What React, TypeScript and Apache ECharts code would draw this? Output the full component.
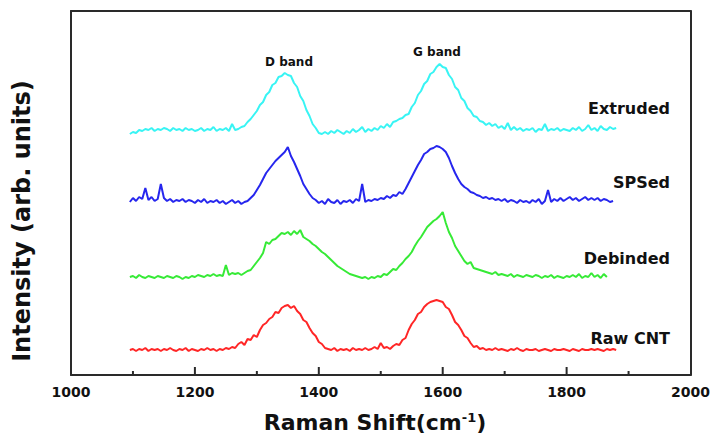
import React, { useEffect, useRef } from "react";
import * as echarts from "echarts";

// Raman shift grid (cm^-1)
const shifts = [
  1095, 1100, 1105, 1110, 1115, 1120, 1125, 1130, 1135, 1140,
  1145, 1150, 1155, 1160, 1165, 1170, 1175, 1180, 1185, 1190,
  1195, 1200, 1205, 1210, 1215, 1220, 1225, 1230, 1235, 1240,
  1245, 1250, 1255, 1260, 1265, 1270, 1275, 1280, 1285, 1290,
  1295, 1300, 1305, 1310, 1315, 1320, 1325, 1330, 1335, 1340,
  1345, 1350, 1355, 1360, 1365, 1370, 1375, 1380, 1385, 1390,
  1395, 1400, 1405, 1410, 1415, 1420, 1425, 1430, 1435, 1440,
  1445, 1450, 1455, 1460, 1465, 1470, 1475, 1480, 1485, 1490,
  1495, 1500, 1505, 1510, 1515, 1520, 1525, 1530, 1535, 1540,
  1545, 1550, 1555, 1560, 1565, 1570, 1575, 1580, 1585, 1590,
  1595, 1600, 1605, 1610, 1615, 1620, 1625, 1630, 1635, 1640,
  1645, 1650, 1655, 1660, 1665, 1670, 1675, 1680, 1685, 1690,
  1695, 1700, 1705, 1710, 1715, 1720, 1725, 1730, 1735, 1740,
  1745, 1750, 1755, 1760, 1765, 1770, 1775, 1780, 1785, 1790,
  1795, 1800, 1805, 1810, 1815, 1820, 1825, 1830, 1835, 1840,
  1845, 1850, 1855, 1860, 1865, 1870, 1875, 1880,
];

const extruded = [
  246, 248, 247, 250, 249, 251, 250, 252, 249, 251,
  250, 252, 251, 249, 252, 250, 251, 249, 252, 250,
  251, 249, 250, 252, 249, 251, 250, 253, 249, 251,
  250, 252, 249, 256, 250, 251, 253, 254, 258, 261,
  265, 269, 275, 278, 285, 288, 295, 297, 303, 304,
  307, 305, 304, 297, 293, 284, 279, 270, 264, 256,
  252, 247, 246, 248, 246, 249, 247, 250, 248, 246,
  249, 247, 251, 248, 250, 253, 248, 251, 249, 252,
  250, 254, 252, 256, 253, 258, 259, 261, 262, 265,
  266, 273, 277, 285, 289, 296, 299, 306, 308, 313,
  316, 313, 312, 305, 301, 293, 290, 282, 279, 272,
  269, 264, 263, 259, 258, 255, 257, 254, 256, 252,
  254, 251, 257, 250, 253, 250, 252, 249, 251, 250,
  252, 248, 251, 250, 256, 249, 251, 250, 252, 249,
  251, 250, 249, 252, 250, 253, 249, 251, 255, 250,
  252, 249, 254, 251, 250, 253, 251, 252,
];

const spsed = [
  178, 182, 179, 183, 181, 192, 180, 183, 179, 181,
  196, 182, 179, 181, 178, 180, 179, 181, 178, 180,
  179, 177, 180, 178, 181, 177, 179, 178, 180, 177,
  179, 176, 178, 180, 177, 179, 176, 178, 179, 182,
  185, 190, 195, 201, 207, 211, 215, 219, 222, 225,
  228, 233, 224, 218, 211, 204, 196, 191, 186, 182,
  180, 177, 179, 176, 181, 178, 177, 180, 176, 179,
  178, 180, 177, 181, 179, 196, 178, 180, 179, 181,
  180, 182, 181, 184, 182, 185, 184, 188, 186, 191,
  197, 203, 209, 215, 220, 226, 228, 231, 232, 234,
  233, 231, 228, 222, 214, 207, 201, 196, 193, 191,
  188, 187, 185, 184, 182, 183, 181, 182, 180, 181,
  179, 181, 178, 180, 179, 177, 180, 178, 179, 177,
  180, 178, 181, 176, 179, 190, 178, 181, 179, 182,
  179, 181, 183, 180, 182, 179, 181, 183, 180, 182,
  180, 182, 179, 181, 180, 178, 179, null,
];

const debinded = [
  103, 104, 102, 105, 103, 102, 104, 103, 102, 104,
  103, 102, 104, 103, 102, 104, 103, 101, 103, 102,
  104, 103, 105, 104, 103, 105, 104, 106, 104, 105,
  104, 115, 105, 107, 106, 107, 105, 107, 109, 110,
  114, 118, 122, 127, 138, 136, 140, 141, 144, 147,
  146, 148, 145, 149, 146, 150, 143, 141, 139, 136,
  134, 131, 128, 126, 123, 120, 117, 114, 112, 110,
  108, 106, 105, 104, 103, 102, 103, 101, 103, 102,
  104, 103, 106, 105, 108, 111, 110, 114, 117, 121,
  124, 128, 134, 139, 143, 148, 153, 156, 159, 161,
  164, 168, 157, 148, 142, 134, 129, 124, 119, 116,
  118, 112, 111, 110, 109, 108, 107, 106, 108, 105,
  106, 105, 104, 106, 103, 105, 104, 103, 105, 104,
  103, 105, 104, 102, 104, 103, 105, 102, 104, 103,
  102, 104, 103, 105, 103, 106, 102, 104, 103, 107,
  103, 105, 102, 106, 103, null, null, null,
];

const rawCnt = [
  30, 31, 29, 31, 30, 32, 29, 31, 30, 31,
  29, 31, 30, 32, 30, 29, 31, 30, 32, 29,
  31, 30, 29, 31, 30, 32, 30, 31, 29, 31,
  30, 32, 31, 33, 32, 36, 38, 35, 41, 40,
  45, 43, 50, 55, 57, 61, 63, 68, 67, 72,
  74, 75, 72, 74, 69, 66, 60, 58, 52, 47,
  44, 38, 36, 32, 31, 30, 32, 29, 31, 30,
  31, 29, 32, 30, 31, 30, 32, 30, 31, 33,
  31, 37, 32, 33, 31, 34, 36, 35, 40, 42,
  50, 56, 60, 66, 68, 73, 76, 78, 79, 80,
  79, 78, 73, 71, 65, 58, 55, 50, 44, 42,
  37, 33, 34, 31, 32, 30, 31, 30, 32, 30,
  31, 30, 29, 31, 30, 32, 30, 29, 31, 30,
  30, 31, 29, 30, 31, 30, 29, 31, 30, 30,
  31, 30, 29, 31, 30, 29, 31, 30, 30, 31,
  30, 31, 30, 29, 31, 30, 31, 30,
];

const seriesNames = ["Extruded", "SPSed", "Debinded", "Raw CNT"];
const seriesValues = [extruded, spsed, debinded, rawCnt];
const seriesColors = ["#38F4F4", "#2626EE", "#36EA36", "#FF2626"];
const xTicks = [1000, 1200, 1400, 1600, 1800, 2000];
const xMinorTicks = [1100, 1300, 1500, 1700, 1900];

const FONT = "'DejaVu Sans', sans-serif";
const AXIS_COLOR = "#2a2a2a";
const Y_MIN = 5;

export default function App() {
  const ref = useRef<HTMLDivElement>(null);
  useEffect(() => {
    document.body.style.margin = "0";
    const chart = echarts.init(ref.current!, null, { renderer: "svg" });
    const grid = { left: 71, right: 21, top: 11, bottom: 64 };
    const series = seriesValues.map((vals, si) => ({
      name: seriesNames[si],
      type: "line",
      showSymbol: false,
      symbol: "none",
      connectNulls: false,
      data: shifts.map((x, i) => [x, vals[i]]),
      lineStyle: { color: seriesColors[si], width: 2 },
      itemStyle: { color: seriesColors[si] },
      z: 3,
    }));
    const labelY = [108, 182, 258, 338];
    const frameLine = { show: true, onZero: false, lineStyle: { color: AXIS_COLOR, width: 2 } };
    const textGraphics: any[] = [
      {
        type: "text",
        x: 375,
        y: 422,
        style: {
          text: "Raman Shift(cm{sup|-1})",
          rich: { sup: { fontSize: 13, fontWeight: "bold", fontFamily: FONT, fill: "#111", verticalAlign: "top", padding: [0, 0, 10, 0] } },
          fill: "#111",
          font: `bold 22px ${FONT}`,
          align: "center",
          verticalAlign: "middle",
        },
      },
      {
        type: "text",
        x: 22,
        y: 221,
        rotation: Math.PI / 2,
        style: {
          text: "Intensity (arb. units)",
          fill: "#111",
          font: `bold 24px ${FONT}`,
          align: "center",
          verticalAlign: "middle",
        },
      },
      {
        type: "text",
        x: 289,
        y: 62,
        style: { text: "D band", fill: "#111", font: `bold 12px ${FONT}`, align: "center", verticalAlign: "middle" },
      },
      {
        type: "text",
        x: 437,
        y: 52,
        style: { text: "G band", fill: "#111", font: `bold 12px ${FONT}`, align: "center", verticalAlign: "middle" },
      },
      ...seriesNames.map((n, i) => ({
        type: "text",
        x: 670,
        y: labelY[i],
        style: { text: n, fill: "#111", font: `bold 16px ${FONT}`, align: "right", verticalAlign: "middle" },
      })),
    ];
    chart.setOption({
      animation: false,
      backgroundColor: "#ffffff",
      grid: { ...grid, show: false, containLabel: false },
      xAxis: [
        {
          type: "value",
          position: "bottom",
          min: xTicks[0],
          max: xTicks[xTicks.length - 1],
          interval: 200,
          axisLine: frameLine,
          axisTick: { show: false },
          splitLine: { show: false },
          axisLabel: {
            show: true,
            color: "#111",
            fontFamily: FONT,
            fontWeight: "bold",
            fontSize: 14,
            margin: 10,
            formatter: (v: number) => String(v),
          },
        },
        {
          type: "value",
          position: "top",
          min: xTicks[0],
          max: xTicks[xTicks.length - 1],
          interval: 200,
          axisLine: frameLine,
          axisTick: { show: false },
          axisLabel: { show: false },
          splitLine: { show: false },
        },
      ],
      yAxis: [
        {
          type: "value",
          position: "left",
          min: Y_MIN,
          max: 369,
          axisLine: frameLine,
          axisTick: { show: false },
          axisLabel: { show: false },
          splitLine: { show: false },
        },
        {
          type: "value",
          position: "right",
          min: Y_MIN,
          max: 369,
          axisLine: frameLine,
          axisTick: { show: false },
          axisLabel: { show: false },
          splitLine: { show: false },
        },
      ],
      series,
      graphic: textGraphics,
    });
    // inward ticks placed with the axis' own scale
    const tickLine = (v: number, len: number) => {
      const p = chart.convertToPixel({ xAxisIndex: 0, yAxisIndex: 0 }, [v, Y_MIN]) as number[];
      return {
        type: "line",
        shape: { x1: p[0], y1: p[1], x2: p[0], y2: p[1] - len },
        style: { stroke: AXIS_COLOR, lineWidth: 2 },
        z: 10,
      };
    };
    chart.setOption({
      graphic: [
        ...textGraphics,
        ...xTicks.slice(1, -1).map((v) => tickLine(v, 8)),
        ...xMinorTicks.map((v) => tickLine(v, 4)),
      ],
    });
    return () => chart.dispose();
  }, []);
  return <div ref={ref} style={{ position: "absolute", left: 0, top: 0, width: 713, height: 439 }} />;
}
